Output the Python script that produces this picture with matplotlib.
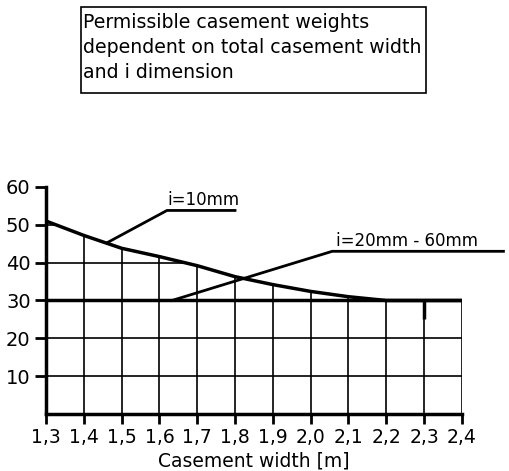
import numpy as np
import matplotlib.pyplot as plt
from matplotlib.patches import Rectangle

# permissible weight for i=10mm, read at each width step
width = [1.3, 1.4, 1.5, 1.6, 1.7, 1.8, 1.9, 2.0, 2.1, 2.2, 2.3, 2.4]
weight_i10 = [51, 47.2, 43.8, 41.6, 39.2, 36.3, 34.2, 32.4, 31.0, 30, 30, 30]
weight_i20_60 = 30
y_ticks = [10, 20, 30, 40, 50, 60]
x_labels = ["1,3", "1,4", "1,5", "1,6", "1,7", "1,8", "1,9", "2,0", "2,1", "2,2", "2,3", "2,4"]

fig = plt.figure(figsize=(5.09, 4.71), dpi=100)
ax = fig.add_axes([0.0904, 0.121, 0.817, 0.482])
ax.set_xlim(1.3, 2.4)
ax.set_ylim(0, 60)

w = np.array(width)
top = np.maximum(np.array(weight_i10), weight_i20_60)

# vertical grid lines up to the curve
ax.vlines(w[1:], 0, top[1:], color="black", lw=1.2)
# horizontal grid lines up to the curve
for yv in [10, 20, 40, 50]:
    xe = np.interp(yv, top[::-1], w[::-1]) if yv > weight_i20_60 else 2.4
    ax.hlines(yv, 1.3, xe, color="black", lw=1.2)

ax.plot(width, weight_i10, color="black", lw=2.5, solid_capstyle="butt")
ax.hlines(weight_i20_60, 1.3, 2.4, color="black", lw=2.5)
ax.vlines(2.3, 25, 30, color="black", lw=2.5)

# leaders
ax.plot([1.464, 1.62, 1.8], [45.4, 53.8, 53.8], color="black", lw=2, clip_on=False)
ax.text(1.622, 54.2, "i=10mm", fontsize=12, ha="left", va="bottom")
ax.plot([1.633, 2.057, 2.51], [30, 43, 43], color="black", lw=2, clip_on=False)
ax.text(2.068, 43.4, "i=20mm - 60mm", fontsize=12, ha="left", va="bottom")

for s in ["top", "right"]:
    ax.spines[s].set_visible(False)
for s in ["left", "bottom"]:
    ax.spines[s].set_linewidth(2.5)

ax.set_xticks(width)
ax.set_xticklabels(x_labels, fontsize=13.5)
ax.set_yticks(y_ticks)
ax.set_yticklabels([str(v) for v in y_ticks], fontsize=14)
ax.tick_params(axis="x", width=2, length=7, direction="out", pad=3)
ax.tick_params(axis="y", width=2, length=8, direction="out", pad=3)
ax.set_xlabel("Casement width [m]", fontsize=13.5, labelpad=3)

fig.patches.append(Rectangle((81 / 509, 1 - 93 / 471), 345 / 509, 86 / 471,
                             transform=fig.transFigure, fc="white", ec="black", lw=1.2))
fig.text(83 / 509, 1 - 13 / 471, "Permissible casement weights\ndependent on total casement width\nand i dimension",
         fontsize=13.6, ha="left", va="top", linespacing=1.4)

fig.savefig("out.png", dpi=100)
